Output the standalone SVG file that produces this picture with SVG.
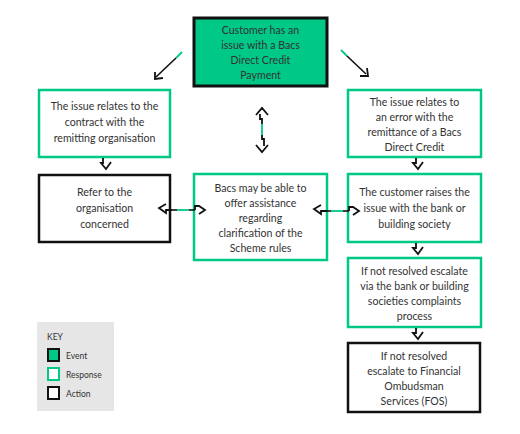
<svg xmlns="http://www.w3.org/2000/svg" width="520" height="434" viewBox="0 0 520 434">
<style>
.t{font-family:Lato,"Open Sans","Liberation Sans",sans-serif;font-size:10.6px;fill:#333;text-anchor:middle}
.k{font-family:Lato,"Open Sans","Liberation Sans",sans-serif;font-size:8.5px;fill:#333}
.resp{fill:#fff;stroke:#00c887;stroke-width:2.5}
.act{fill:#fff;stroke:#111;stroke-width:2.5}
.ev{fill:#00c887;stroke:#111;stroke-width:3}
.ln{fill:none;stroke:#111;stroke-width:1.6}
.gl{fill:none;stroke:#00c887;stroke-width:1.8}
.hd{fill:none;stroke:#111;stroke-width:1.8;stroke-linejoin:miter}
</style>
<rect width="520" height="434" fill="#fff"/>
<g id="customer">
<rect class="ev" x="194" y="18" width="133" height="68"/>
<text class="t" x="260.5" y="34">Customer has an</text>
<text class="t" x="260.5" y="49">issue with a Bacs</text>
<text class="t" x="260.5" y="64">Direct Credit</text>
<text class="t" x="260.5" y="79">Payment</text>
</g>
<g id="contract">
<rect class="resp" x="39" y="90" width="131" height="67"/>
<text class="t" x="104.5" y="110">The issue relates to the</text>
<text class="t" x="104.5" y="126">contract with the</text>
<text class="t" x="104.5" y="142">remitting organisation</text>
</g>
<g id="refer">
<rect class="act" x="39" y="175" width="131" height="67"/>
<text class="t" x="104.5" y="196">Refer to the</text>
<text class="t" x="104.5" y="212">organisation</text>
<text class="t" x="104.5" y="228">concerned</text>
</g>
<g id="bacs">
<rect class="resp" x="194" y="174" width="133" height="86"/>
<text class="t" x="260.5" y="192">Bacs may be able to</text>
<text class="t" x="260.5" y="207">offer assistance</text>
<text class="t" x="260.5" y="222">regarding</text>
<text class="t" x="260.5" y="237">clarification of the</text>
<text class="t" x="260.5" y="252">Scheme rules</text>
</g>
<g id="error">
<rect class="resp" x="348" y="90" width="133" height="67"/>
<text class="t" x="414.5" y="106">The issue relates to</text>
<text class="t" x="414.5" y="121">an error with the</text>
<text class="t" x="414.5" y="136">remittance of a Bacs</text>
<text class="t" x="414.5" y="151">Direct Credit</text>
</g>
<g id="raise">
<rect class="resp" x="348" y="174" width="133" height="68"/>
<text class="t" x="414.5" y="196">The customer raises the</text>
<text class="t" x="414.5" y="212">issue with the bank or</text>
<text class="t" x="414.5" y="228">building society</text>
</g>
<g id="escalate">
<rect class="resp" x="348" y="258" width="133" height="69"/>
<text class="t" x="414.5" y="275">If not resolved escalate</text>
<text class="t" x="414.5" y="290">via the bank or building</text>
<text class="t" x="414.5" y="305">societies complaints</text>
<text class="t" x="414.5" y="320">process</text>
</g>
<g id="fos">
<rect class="act" x="348" y="343" width="132" height="69"/>
<text class="t" x="414" y="360">If not resolved</text>
<text class="t" x="414" y="375">escalate to Financial</text>
<text class="t" x="414" y="390">Ombudsman</text>
<text class="t" x="414" y="405">Services (FOS)</text>
</g>
<g id="key">
<rect x="37" y="322" width="77" height="89" fill="#e6e6e6"/>
<text class="k" x="47" y="340">KEY</text>
<rect x="48" y="349" width="11" height="12" fill="#00c887" stroke="#111" stroke-width="2"/>
<text class="k" x="66" y="359">Event</text>
<rect x="48" y="368" width="11" height="12" fill="#fff" stroke="#00c887" stroke-width="2"/>
<text class="k" x="66" y="378">Response</text>
<rect x="48" y="387" width="11" height="12" fill="#fff" stroke="#111" stroke-width="2"/>
<text class="k" x="66" y="397">Action</text>
</g>
<g id="connectors">
<path class="gl" d="M182,52 L176,58"/>
<path class="ln" d="M176,58 L156,77"/>
<path class="hd" d="M155,72 L155,79 L163,78"/>
<path class="gl" d="M341,50 L347,56"/>
<path class="ln" d="M347,56 L366,74"/>
<path class="hd" d="M360,76 L368,76 L367,68"/>
<path class="hd" d="M256,115 L262,108 L268,115"/>
<path class="hd" d="M262,108 L262,110 M260,114 L260,119 L262,119 L262,124"/>
<path class="gl" d="M262,124 L262,135"/>
<path class="hd" d="M262,135 L262,139 L264,139 L264,146"/>
<path class="hd" d="M256,145 L262,152 L268,145"/>
<path class="hd" d="M103,158 L103,163 L101,163 L106,169 L111,162"/>
<path class="hd" d="M416,158 L416,163 L413,163 L418,169 L423,162"/>
<path class="hd" d="M416,243 L416,248 L413,248 L418,254 L423,247"/>
<path class="hd" d="M416,328 L416,333 L413,333 L418,339 L423,332"/>
<path class="hd" d="M166,204 L159,208 L166,213 L166,210 L172,210"/>
<path class="ln" d="M172,210 L177,210"/>
<path class="gl" d="M177,210 L189,210"/>
<path class="ln" d="M189,210 L195,210"/>
<path class="hd" d="M195,210 L195,206 L199,206 L205,210 L199,214"/>
<path class="hd" d="M321,205 L314,209 L321,214 L321,211 L327,211"/>
<path class="ln" d="M327,211 L331,211"/>
<path class="gl" d="M331,211 L343,211"/>
<path class="ln" d="M343,211 L349,211"/>
<path class="hd" d="M349,211 L349,207 L353,207 L359,211 L353,215"/>
</g>
</svg>
